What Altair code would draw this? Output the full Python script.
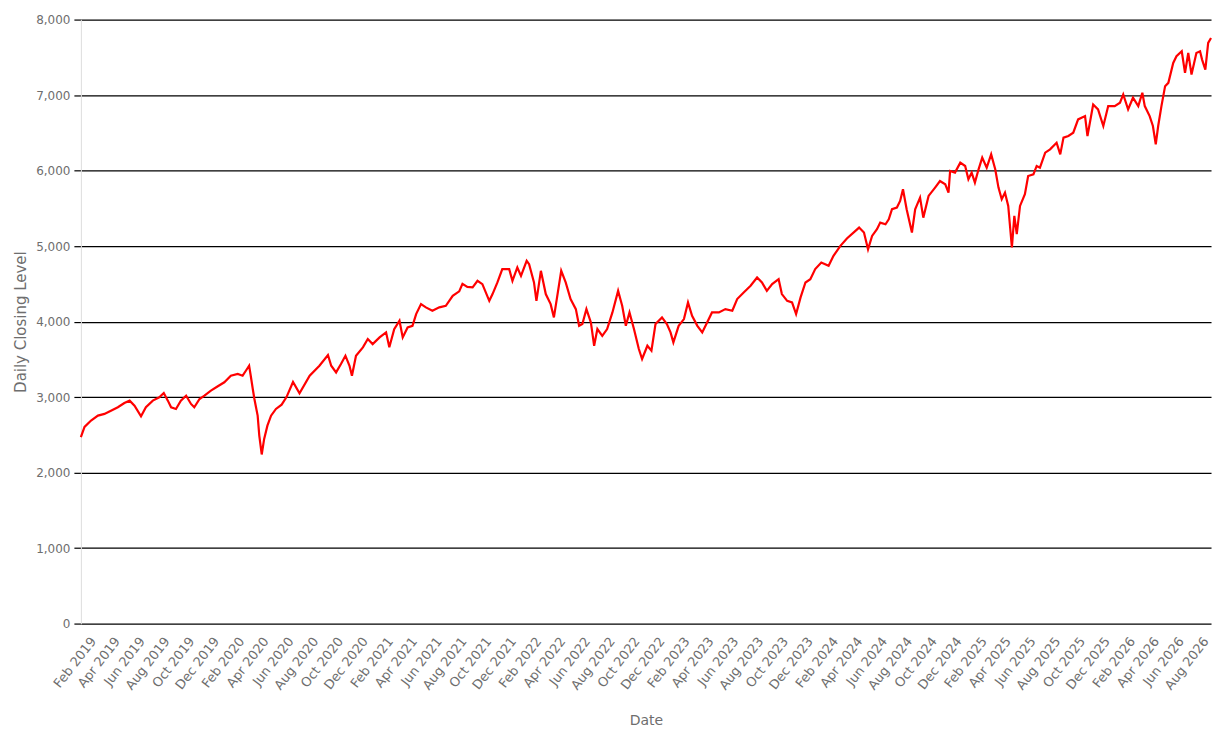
import altair as alt
import pandas as pd

dates = [
    "2019-01-02", "2019-01-11", "2019-01-27", "2019-02-13", "2019-03-01", "2019-03-17", "2019-04-03", "2019-04-19",
    "2019-05-02", "2019-05-14", "2019-05-30", "2019-06-11", "2019-06-28", "2019-07-14", "2019-07-25", "2019-08-04",
    "2019-08-12", "2019-08-24", "2019-09-05", "2019-09-18", "2019-09-30", "2019-10-08", "2019-10-21", "2019-11-02",
    "2019-11-18", "2019-12-05", "2019-12-21", "2020-01-06", "2020-01-23", "2020-02-04", "2020-02-12", "2020-02-20",
    "2020-02-24", "2020-02-29", "2020-03-04", "2020-03-12", "2020-03-16", "2020-03-22", "2020-03-28", "2020-04-05",
    "2020-04-14", "2020-04-26", "2020-05-10", "2020-05-22", "2020-06-07", "2020-06-23", "2020-07-18", "2020-08-11",
    "2020-09-01", "2020-09-09", "2020-09-21", "2020-10-03", "2020-10-14", "2020-10-24", "2020-10-30", "2020-11-09",
    "2020-11-26", "2020-12-08", "2020-12-20", "2021-01-06", "2021-01-22", "2021-01-30", "2021-02-11", "2021-02-24",
    "2021-03-04", "2021-03-16", "2021-03-28", "2021-04-06", "2021-04-18", "2021-04-30", "2021-05-16", "2021-06-02",
    "2021-06-18", "2021-07-05", "2021-07-21", "2021-07-29", "2021-08-10", "2021-08-23", "2021-09-04", "2021-09-16",
    "2021-10-03", "2021-10-11", "2021-10-23", "2021-11-04", "2021-11-21", "2021-11-29", "2021-12-11", "2021-12-20",
    "2022-01-03", "2022-01-09", "2022-01-21", "2022-01-27", "2022-02-07", "2022-02-19", "2022-03-03", "2022-03-11",
    "2022-03-20", "2022-03-29", "2022-04-09", "2022-04-21", "2022-05-04", "2022-05-12", "2022-05-20", "2022-05-30",
    "2022-06-10", "2022-06-18", "2022-06-26", "2022-07-08", "2022-07-20", "2022-08-02", "2022-08-16", "2022-08-26",
    "2022-09-04", "2022-09-13", "2022-09-24", "2022-10-06", "2022-10-14", "2022-10-27", "2022-11-06", "2022-11-16",
    "2022-12-02", "2022-12-14", "2022-12-23", "2022-12-30", "2023-01-12", "2023-01-25", "2023-02-04", "2023-02-14",
    "2023-02-27", "2023-03-11", "2023-03-23", "2023-04-04", "2023-04-21", "2023-05-07", "2023-05-24", "2023-06-05",
    "2023-06-21", "2023-07-08", "2023-07-24", "2023-08-05", "2023-08-17", "2023-08-30", "2023-09-15", "2023-09-23",
    "2023-10-06", "2023-10-18", "2023-10-28", "2023-11-08", "2023-11-20", "2023-12-02", "2023-12-14", "2023-12-29",
    "2024-01-16", "2024-01-28", "2024-02-14", "2024-03-01", "2024-03-22", "2024-03-31", "2024-04-12", "2024-04-22",
    "2024-05-02", "2024-05-14", "2024-05-22", "2024-06-04", "2024-06-12", "2024-06-20", "2024-07-02", "2024-07-10",
    "2024-07-17", "2024-07-26", "2024-08-08", "2024-08-16", "2024-08-28", "2024-09-05", "2024-09-18", "2024-10-04",
    "2024-10-16", "2024-10-29", "2024-11-06", "2024-11-10", "2024-11-22", "2024-12-05", "2024-12-17", "2024-12-25",
    "2025-01-02", "2025-01-10", "2025-01-19", "2025-01-28", "2025-02-08", "2025-02-19", "2025-03-01", "2025-03-09",
    "2025-03-17", "2025-03-25", "2025-04-02", "2025-04-11", "2025-04-17", "2025-04-23", "2025-05-01", "2025-05-13",
    "2025-05-21", "2025-06-03", "2025-06-11", "2025-06-19", "2025-07-02", "2025-07-14", "2025-07-30", "2025-08-08",
    "2025-08-16", "2025-08-28", "2025-09-09", "2025-09-21", "2025-10-08", "2025-10-14", "2025-10-28", "2025-11-09",
    "2025-11-22", "2025-12-04", "2025-12-20", "2026-01-02", "2026-01-10", "2026-01-22", "2026-02-03", "2026-02-16",
    "2026-02-26", "2026-03-04", "2026-03-16", "2026-03-24", "2026-03-31", "2026-04-06", "2026-04-14", "2026-04-23",
    "2026-05-01", "2026-05-13", "2026-05-21", "2026-06-03", "2026-06-11", "2026-06-19", "2026-06-27", "2026-07-09",
    "2026-07-18", "2026-07-23", "2026-07-31", "2026-08-07", "2026-08-14",
]

closing = [
    2470, 2605, 2690, 2755, 2777, 2820, 2865, 2922,
    2953, 2887, 2746, 2865, 2953, 2997, 3054, 2953,
    2865, 2843, 2953, 3019, 2909, 2865, 2975, 3019,
    3085, 3143, 3196, 3283, 3306, 3283, 3349, 3415,
    3283, 3107, 2975, 2754, 2490, 2240, 2446, 2622,
    2754, 2843, 2900, 3000, 3200, 3050, 3283, 3415,
    3557, 3415, 3327, 3438, 3548, 3415, 3283, 3548,
    3659, 3769, 3702, 3791, 3857, 3659, 3900, 4011,
    3791, 3923, 3944, 4099, 4231, 4188, 4143, 4188,
    4209, 4341, 4400, 4500, 4460, 4452, 4540, 4496,
    4275, 4364, 4518, 4695, 4695, 4540, 4717, 4606,
    4805, 4760, 4518, 4275, 4672, 4364, 4231, 4055,
    4364, 4672, 4518, 4298, 4165, 3944, 3967, 4165,
    3989, 3680, 3901, 3812, 3901, 4121, 4407, 4209,
    3944, 4121, 3901, 3636, 3504, 3680, 3614, 3967,
    4055, 3967, 3857, 3725, 3944, 4033, 4254, 4077,
    3944, 3857, 3989, 4121, 4121, 4165, 4143, 4298,
    4386, 4474, 4584, 4518, 4407, 4496, 4562, 4364,
    4275, 4254, 4099, 4320, 4518, 4562, 4695, 4783,
    4739, 4871, 5003, 5100, 5201, 5245, 5179, 4958,
    5135, 5223, 5311, 5289, 5355, 5488, 5510, 5598,
    5752, 5488, 5179, 5488, 5642, 5377, 5664, 5775,
    5862, 5818, 5708, 5995, 5973, 6105, 6061, 5885,
    5973, 5840, 6017, 6171, 6039, 6215, 6017, 5775,
    5620, 5708, 5532, 4981, 5399, 5157, 5532, 5686,
    5928, 5950, 6061, 6039, 6237, 6281, 6369, 6215,
    6436, 6458, 6502, 6678, 6722, 6458, 6876, 6810,
    6590, 6854, 6854, 6899, 7009, 6810, 6965, 6854,
    7031, 6854, 6722, 6590, 6347, 6590, 6854, 7118,
    7162, 7426, 7514, 7580, 7294, 7558, 7272, 7558,
    7580, 7470, 7338, 7691, 7756,
]

# x-axis tick positions (every second month)
tick_months = [
    "2019-02-01", "2019-04-01", "2019-06-01", "2019-08-01", "2019-10-01", "2019-12-01",
    "2020-02-01", "2020-04-01", "2020-06-01", "2020-08-01", "2020-10-01", "2020-12-01",
    "2021-02-01", "2021-04-01", "2021-06-01", "2021-08-01", "2021-10-01", "2021-12-01",
    "2022-02-01", "2022-04-01", "2022-06-01", "2022-08-01", "2022-10-01", "2022-12-01",
    "2023-02-01", "2023-04-01", "2023-06-01", "2023-08-01", "2023-10-01", "2023-12-01",
    "2024-02-01", "2024-04-01", "2024-06-01", "2024-08-01", "2024-10-01", "2024-12-01",
    "2025-02-01", "2025-04-01", "2025-06-01", "2025-08-01", "2025-10-01", "2025-12-01",
    "2026-02-01", "2026-04-01", "2026-06-01", "2026-08-01",
]
y_ticks = [0, 1000, 2000, 3000, 4000, 5000, 6000, 7000, 8000]

df = pd.DataFrame({"Date": pd.to_datetime(dates), "Close": closing})

tick_values = [
    alt.DateTime(year=int(s[:4]), month=int(s[5:7]), date=int(s[8:10])) for s in tick_months
]

gray = "#6e6e6e"
font = "DejaVu Sans"

chart = (
    alt.Chart(df)
    .mark_line(color="#ff0000", strokeWidth=2.2)
    .encode(
        x=alt.X(
            "Date:T",
            title="Date",
            axis=alt.Axis(
                values=tick_values,
                format="%b %Y",
                labelOverlap=False,
                labelAngle=-52,
                labelAlign="right",
                labelBaseline="middle",
                labelColor=gray,
                labelFont=font,
                labelFontSize=13,
                grid=False,
                domain=False,
                ticks=False,
                labelPadding=15,
                titleColor=gray,
                titleFont=font,
                titleFontSize=14,
                titleFontWeight="normal",
                titlePadding=21,
            ),
        ),
        y=alt.Y(
            "Close:Q",
            title="Daily Closing Level",
            scale=alt.Scale(domain=[0, 8000]),
            axis=alt.Axis(
                values=y_ticks,
                format=",d",
                labelColor=gray,
                labelFont=font,
                labelFontSize=12,
                gridColor="#000000",
                gridWidth=1.2,
                gridOpacity=1,
                domainColor="#dddddd",
                tickColor="#000000",
                tickSize=7,
                tickWidth=1.2,
                labelPadding=4,
                titleColor=gray,
                titleFont=font,
                titleFontSize=15,
                titleFontWeight="normal",
                titlePadding=7,
            ),
        ),
    )
    .properties(width=1132, height=605)
    .configure_view(stroke=None)
)

chart.save("out.html", embed_options={"renderer": "svg", "actions": False})
